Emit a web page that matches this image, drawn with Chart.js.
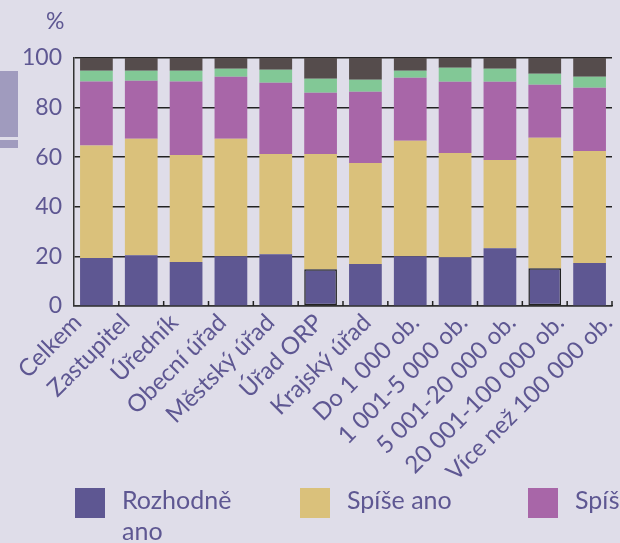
<!DOCTYPE html>
<html>
<head>
<meta charset="utf-8">
<script src="https://cdn.jsdelivr.net/npm/chart.js@4.4.0/dist/chart.umd.min.js"></script>
<style>
  html,body{margin:0;padding:0;background:#dfdde9;}
  #wrap{position:relative;width:620px;height:543px;overflow:hidden;background:#dfdde9;font-family:Lato,"Noto Sans",sans-serif;color:#5e5792;}
  #c{position:absolute;left:0;top:0;}
  .deco{position:absolute;left:0;width:18px;background:#a09bbe;}
  #pct{position:absolute;left:46px;top:6px;font-size:23px;}
  #legend{position:absolute;left:0;top:488px;width:900px;}
  .li{position:absolute;top:0;display:flex;align-items:flex-start;}
  .sw{width:30px;height:30px;margin-right:17px;flex:none;}
  .lt{font-size:25px;line-height:31px;width:140px;margin-top:-4px;}
</style>
</head>
<body>
<div id="wrap">
  <canvas id="c" width="620" height="543"></canvas>
  <div class="deco" style="top:71px;height:66px"></div>
  <div class="deco" style="top:140px;height:8px"></div>
  <div id="pct">%</div>
  <div id="legend"></div>
</div>
<script>
// ===== Data =====
const CATEGORIES=['Celkem','Zastupitel','Úředník','Obecní úřad','Městský úřad','Úřad ORP','Krajský úřad','Do 1 000 ob.','1 001-5 000 ob.','5 001-20 000 ob.','20 001-100 000 ob.','Více než 100 000 ob.'];
const SERIES_NAMES=['Rozhodně ano','Spíše ano','Spíše ne','Rozhodně ne','Neví'];
const ROZHODNE_ANO=[19.4,20.5,17.7,20.1,20.9,14.8,16.9,20.1,19.7,23.3,15.2,17.3];
const SPISE_ANO   =[45.3,46.9,43.2,47.3,40.4,46.5,40.8,46.5,42.0,35.6,52.6,45.2];
const SPISE_NE    =[25.8,23.4,29.6,25.0,28.7,24.7,28.7,25.4,28.7,31.5,21.4,25.5];
const ROZHODNE_NE =[4.4,4.1,4.4,3.3,5.3,5.6,4.8,2.9,5.7,5.3,4.4,4.4];
const NEVI        =[5.1,5.1,5.1,4.3,4.7,8.4,8.8,5.1,3.9,4.3,6.4,7.6];
const Y_TICKS=[0,20,40,60,80,100];

const COLORS=['#5e5792','#dac17b','#a866a8','#82c896','#554c4c'];
const TEXT='#5e5792';
const FONT='Lato, "Noto Sans", sans-serif';

// outlined bars (Úřad ORP, 20 001-100 000 ob.)
const outline=CATEGORIES.map((c,i)=>(i===5||i===10)?1.5:0);

const datasets=[ROZHODNE_ANO,SPISE_ANO,SPISE_NE,ROZHODNE_NE,NEVI].map((d,i)=>({
  label:SERIES_NAMES[i],data:d,backgroundColor:COLORS[i],
  borderColor:'#222',borderWidth:i===0?outline:0,borderSkipped:false,
  categoryPercentage:1,barPercentage:0.73
}));

// small inward ticks between categories on the x axis
const innerTicks={id:'innerTicks',afterDatasetsDraw(chart){
  const {ctx,scales:{x},chartArea:a}=chart;
  const step=(a.right-a.left)/CATEGORIES.length;
  ctx.save();ctx.strokeStyle='#222';ctx.lineWidth=1.5;
  for(let i=0;i<CATEGORIES.length;i++){
    const px=x.getPixelForValue(i)+step/2;
    ctx.beginPath();ctx.moveTo(px,a.bottom);ctx.lineTo(px,a.bottom-5);ctx.stroke();
  }
  ctx.restore();
}};

// rotated category labels, spread a little wider than the bars (as in the original)
const LABEL_SPREAD=1.076;
const xLabels={id:'xLabels',afterDraw(chart){
  const {ctx,scales:{x},chartArea:a}=chart;
  ctx.save();ctx.fillStyle=TEXT;ctx.font='24px '+FONT;
  ctx.textAlign='right';ctx.textBaseline='top';
  CATEGORIES.forEach((lab,i)=>{
    const ax=a.left+(x.getPixelForValue(i)-a.left)*LABEL_SPREAD-29;
    ctx.save();ctx.translate(ax,a.bottom+4);ctx.rotate(-Math.PI/4);
    ctx.fillText(lab,0,0);ctx.restore();
  });
  ctx.restore();
}};

new Chart(document.getElementById('c'),{
  type:'bar',
  data:{labels:CATEGORIES,datasets},
  options:{
    responsive:false,animation:false,
    layout:{padding:{top:58,right:8,left:0,bottom:0}},
    plugins:{legend:{display:false},tooltip:{enabled:false}},
    scales:{
      x:{stacked:true,
        grid:{display:false},
        border:{display:true,color:'#333',width:1.5},
        ticks:{display:false},
        afterFit(s){s.height=237;}
      },
      y:{stacked:true,min:0,max:100,
        afterBuildTicks(s){s.ticks=Y_TICKS.map(v=>({value:v}));},
        grid:{color:'#222',lineWidth:1.5,drawTicks:false},
        border:{display:true,color:'#333',width:1.5},
        ticks:{color:TEXT,font:{family:FONT,size:23},padding:12},
        afterFit(s){s.width=74;}
      }
    }
  },
  plugins:[innerTicks,xLabels]
});

// ===== Legend =====
const LEG_X=[75,300,528,760,900];
const lg=document.getElementById('legend');
SERIES_NAMES.forEach((n,i)=>{
  const el=document.createElement('div');el.className='li';el.style.left=LEG_X[i]+'px';
  el.innerHTML=`<div class="sw" style="background:${COLORS[i]}"></div><div class="lt">${n}</div>`;
  lg.appendChild(el);
});
</script>
</body>
</html>
